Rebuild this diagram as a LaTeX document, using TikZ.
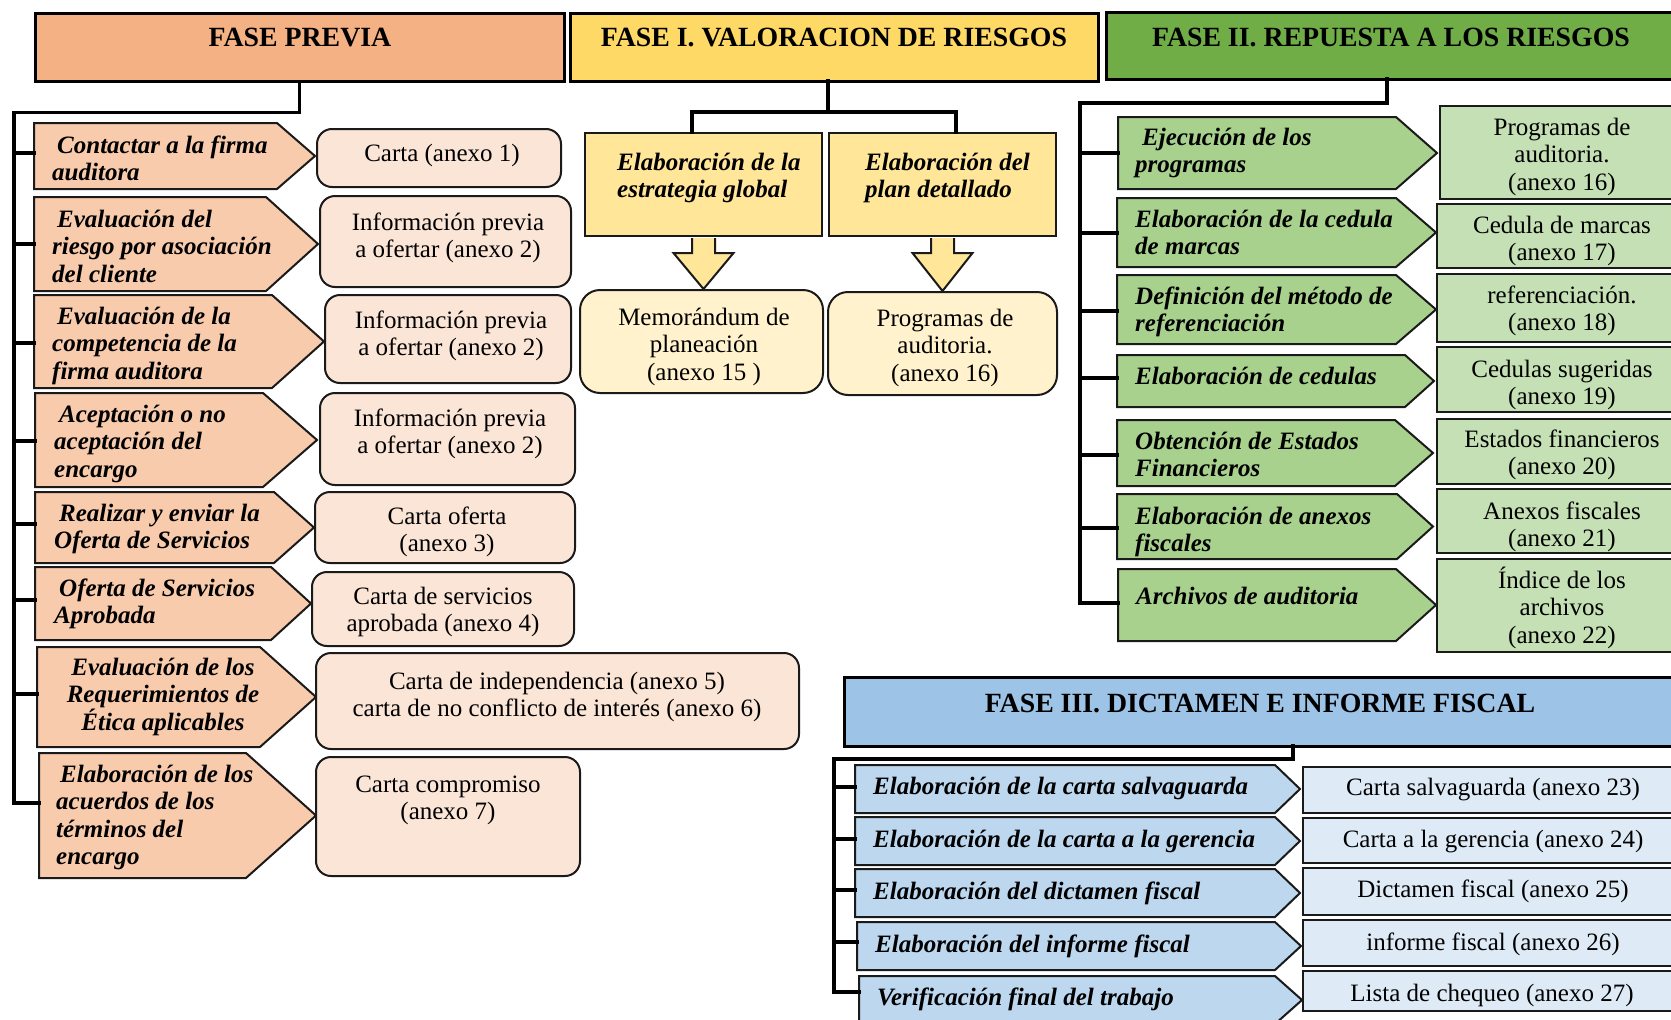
\documentclass[tikz,border=0pt]{standalone}
\usepackage{fontspec}
\setmainfont{Liberation Serif}
\usetikzlibrary{fit,calc}

% Phase palettes: header / step arrow / document box
\definecolor{prevHead}{HTML}{F4B183}
\definecolor{prevStep}{HTML}{F8CBAD}
\definecolor{prevDoc}{HTML}{FBE5D6}
\definecolor{riskHead}{HTML}{FFD966}
\definecolor{riskStep}{HTML}{FFE699}
\definecolor{riskDoc}{HTML}{FFF2CC}
\definecolor{respHead}{HTML}{70AD47}
\definecolor{respStep}{HTML}{A9D18E}
\definecolor{respDoc}{HTML}{C5E0B4}
\definecolor{dictHead}{HTML}{9DC3E6}
\definecolor{dictStep}{HTML}{BDD7EE}
\definecolor{dictDoc}{HTML}{DEEBF7}
\definecolor{edge}{HTML}{1A1A1A}

% fixed height for the first line of every text block
\newcommand\fl{\rule{0pt}{23pt}}

\tikzset{
  conn/.style={draw=black, line width=3.5pt, line join=miter, line cap=rect},
  phasebox/.style={draw=black, line width=3pt, inner sep=0pt},
  phasetext/.style={font=\bfseries\fontsize{27.8}{30}\selectfont, inner sep=0pt},
  stepshape/.style={draw=edge, line width=2pt, line join=miter},
  stepframe/.style={draw=edge, line width=2pt, inner sep=0pt},
  steptext/.style={font=\bfseries\itshape\fontsize{25}{27.5}\selectfont, align=left,
    inner sep=0pt, anchor=north west},
  steptextc/.style={font=\bfseries\itshape\fontsize{25}{27.5}\selectfont, align=center,
    inner sep=0pt, anchor=north},
  doctext/.style={font=\fontsize{25}{27.5}\selectfont, align=center,
    inner sep=0pt, anchor=north},
  docround/.style={draw=edge, line width=2pt, rounded corners=15pt, inner sep=0pt},
  docrect/.style={draw=edge, line width=2.5pt, inner sep=0pt},
}

% pentagon step arrow: name, fill, left x, top y, shoulder x, tip x, bottom y, joint y
\newcommand\stepbox[8]{%
  \draw[stepshape, fill=#2] (#3,#4) -- (#5,#4) -- (#6,{(#4+#7)/2}) -- (#5,#7) -- (#3,#7) -- cycle;
  \coordinate (#1) at (#3,#8);}

% block arrow from the bottom of one box down to the top of another
\newcommand\blockdown[2]{%
  \draw[stepshape, fill=riskStep] ($(#1.south)+(-11.5,1)$) -- ++(0,15) -- ++(-18.5,0)
    -- (#1.south |- #2.north) -- ($(#1.south)+(30,16)$) -- ++(-18.5,0)
    -- ($(#1.south)+(11.5,1)$);}

\begin{document}
\begin{tikzpicture}[x=1pt,y=-1pt]
\useasboundingbox (0,0) rectangle (1671,1020);

% ===================== FASE PREVIA =====================
\node[phasebox, fill=prevHead, fit={(35,13) (564,81)}] (hPrev) {};
\node[phasetext] (tPrev) at (300,38) {FASE PREVIA};

\stepbox{p1}{prevStep}{34}{123}{277}{315}{189}{153}
\stepbox{p2}{prevStep}{34}{197}{266}{318}{291}{244}
\stepbox{p3}{prevStep}{34}{295}{272}{324}{388}{343}
\stepbox{p4}{prevStep}{35}{393}{263}{317}{487}{441}
\stepbox{p5}{prevStep}{35}{492}{274}{314}{563}{524}
\stepbox{p6}{prevStep}{35}{567}{271}{311}{640}{600}
\stepbox{p7}{prevStep}{37}{647}{260}{316}{747}{694}
\stepbox{p8}{prevStep}{39}{753}{246}{316}{878}{803}

\node[steptext] (p1t) at (52,130) {\fl\hspace*{5pt}Contactar a la firma\\auditora};
\node[steptext] (p2t) at (52,204) {\fl\hspace*{5pt}Evaluación del\\riesgo por asociación\\del cliente};
\node[steptext] (p3t) at (52,301) {\fl\hspace*{5pt}Evaluación de la\\competencia de la\\firma auditora};
\node[steptext] (p4t) at (54,399) {\fl\hspace*{5pt}Aceptación o no\\aceptación del\\encargo};
\node[steptext] (p5t) at (54,498) {\fl\hspace*{5pt}Realizar y enviar la\\Oferta de Servicios};
\node[steptext] (p6t) at (54,573) {\fl\hspace*{5pt}Oferta de Servicios\\Aprobada};
\node[steptextc] (p7t) at (163,652) {\fl Evaluación de los\\Requerimientos de\\Ética aplicables};
\node[steptext] (p8t) at (56,759) {\fl\hspace*{4pt}Elaboración de los\\acuerdos de los\\términos del\\encargo};

\node[docround, fill=prevDoc, fit={(317,129) (561,187)}] (q1) {};
\node[docround, fill=prevDoc, fit={(320,196) (571,287)}] (q2) {};
\node[docround, fill=prevDoc, fit={(325,295) (571,383)}] (q3) {};
\node[docround, fill=prevDoc, fit={(320,393) (575,485)}] (q4) {};
\node[docround, fill=prevDoc, fit={(315,492) (575,563)}] (q5) {};
\node[docround, fill=prevDoc, fit={(312,572) (574,646)}] (q6) {};
\node[docround, fill=prevDoc, fit={(316,653) (799,749)}] (q7) {};
\node[docround, fill=prevDoc, fit={(316,757) (580,876)}] (q8) {};

\node[doctext] (q1t) at (442,138) {\fl Carta (anexo 1)};
\node[doctext] (q2t) at (448,207) {\fl Información previa\\a ofertar (anexo 2)};
\node[doctext] (q3t) at (451,305) {\fl Información previa\\a ofertar (anexo 2)};
\node[doctext] (q4t) at (450,403) {\fl Información previa\\a ofertar (anexo 2)};
\node[doctext] (q5t) at (447,501) {\fl Carta oferta\\(anexo 3)};
\node[doctext] (q6t) at (443,581) {\fl Carta de servicios\\aprobada (anexo 4)};
\node[doctext] (q7t) at (557,666) {\fl Carta de independencia (anexo 5)\\carta de no conflicto de interés (anexo 6)};
\node[doctext] (q8t) at (448,769) {\fl Carta compromiso\\(anexo 7)};

% tree of the preliminary phase
\coordinate (pvBot) at (14,803);
\draw[conn] (hPrev.south) -- ++(0,30) -| (pvBot);
\foreach \s in {p1,p2,p3,p4,p5,p6,p7,p8}
  \draw[conn] (pvBot |- \s) -- (\s);

% ===================== FASE I =====================
\node[phasebox, fill=riskHead, fit={(570,13) (1098,81)}] (hRisk) {};
\node[phasetext] (tRisk) at (834,38) {FASE I. VALORACION DE RIESGOS};

\node[stepframe, fill=riskStep, fit={(585,133) (822,236)}] (s1) {};
\node[stepframe, fill=riskStep, fit={(829,133) (1056,236)}] (s2) {};
\node[steptext] (s1t) at (617,147) {\fl Elaboración de la\\estrategia global};
\node[steptext] (s2t) at (865,147) {\fl Elaboración del\\plan detallado};

\node[docround, rounded corners=20pt, fill=riskDoc, fit={(580,290) (823,393)}] (r1) {};
\node[docround, rounded corners=20pt, fill=riskDoc, fit={(828,292) (1057,395)}] (r2) {};
\node[doctext] (r1t) at (704,302) {\fl Memorándum de\\planeación\\(anexo 15 )};
\node[doctext] (r2t) at (945,303) {\fl Programas de\\auditoria.\\(anexo 16)};

\blockdown{s1}{r1}
\blockdown{s2}{r2}

\coordinate (rOut) at (828,81);
\coordinate (rBar) at (828,112);
\draw[conn] (rOut) -- (rBar);
\draw[conn] ($(s1.north)+(-11.5,0)$) |- (rBar) -| ($(s2.north)+(13.5,0)$);

% ===================== FASE II =====================
\node[phasebox, fill=respHead, fit={(1106,12) (1700,79)}] (hResp) {};
\node[phasetext] (tResp) at (1391,37) {FASE II. REPUESTA A LOS RIESGOS};

\stepbox{a1}{respStep}{1118}{117}{1396}{1437}{189}{153}
\stepbox{a2}{respStep}{1117}{198}{1396}{1436}{267}{233}
\stepbox{a3}{respStep}{1117}{275}{1396}{1436}{344}{311}
\stepbox{a4}{respStep}{1117}{355}{1405}{1434}{407}{378}
\stepbox{a5}{respStep}{1117}{420}{1395}{1433}{486}{455}
\stepbox{a6}{respStep}{1117}{494}{1397}{1433}{559}{528}
\stepbox{a7}{respStep}{1118}{569}{1396}{1436}{641}{603}

\node[steptext] (a1t) at (1135,122) {\fl\hspace*{7pt}Ejecución de los\\programas};
\node[steptext] (a2t) at (1135,204) {\fl Elaboración de la cedula\\de marcas};
\node[steptext] (a3t) at (1135,281) {\fl Definición del método de\\referenciación};
\node[steptext] (a4t) at (1135,361) {\fl Elaboración de cedulas};
\node[steptext] (a5t) at (1135,426) {\fl Obtención de Estados\\Financieros};
\node[steptext] (a6t) at (1135,501) {\fl Elaboración de anexos\\fiscales};
\node[steptext] (a7t) at (1136,581) {\fl Archivos de auditoria};

\node[docrect, fill=respDoc, fit={(1440,106) (1700,199)}] (g1) {};
\node[docrect, fill=respDoc, fit={(1437,204) (1700,268)}] (g2) {};
\node[docrect, fill=respDoc, fit={(1437,274) (1700,342)}] (g3) {};
\node[docrect, fill=respDoc, fit={(1437,347) (1700,412)}] (g4) {};
\node[docrect, fill=respDoc, fit={(1437,419) (1700,484)}] (g5) {};
\node[docrect, fill=respDoc, fit={(1437,489) (1700,553)}] (g6) {};
\node[docrect, fill=respDoc, fit={(1437,559) (1700,652)}] (g7) {};

\node[doctext] (g1t) at (1562,112) {\fl Programas de\\auditoria.\\(anexo 16)};
\node[doctext] (g2t) at (1562,210) {\fl Cedula de marcas\\(anexo 17)};
\node[doctext] (g3t) at (1562,280) {\fl referenciación.\\(anexo 18)};
\node[doctext] (g4t) at (1562,354) {\fl Cedulas sugeridas\\(anexo 19)};
\node[doctext] (g5t) at (1562,424) {\fl Estados financieros\\(anexo 20)};
\node[doctext] (g6t) at (1562,496) {\fl Anexos fiscales\\(anexo 21)};
\node[doctext] (g7t) at (1562,565) {\fl Índice de los\\archivos\\(anexo 22)};

\coordinate (gOut) at (1387,79);
\coordinate (gBot) at (1080,603);
\draw[conn] (gOut) -- ++(0,24) -| (gBot);
\foreach \s in {a1,a2,a3,a4,a5,a6,a7}
  \draw[conn] (gBot |- \s) -- (\s);

% ===================== FASE III =====================
\node[phasebox, fill=dictHead, fit={(844,677) (1700,746)}] (hDict) {};
\node[phasetext] (tDict) at (1260,703) {FASE III. DICTAMEN E INFORME FISCAL};

\stepbox{c1}{dictStep}{855}{765}{1275}{1300}{813}{787}
\stepbox{c2}{dictStep}{855}{817}{1275}{1300}{865}{839}
\stepbox{c3}{dictStep}{855}{869}{1275}{1300}{917}{890}
\stepbox{c4}{dictStep}{857}{922}{1275}{1301}{970}{942}
\stepbox{c5}{dictStep}{859}{976}{1275}{1302}{1024}{992}

\node[steptext] (c1t) at (873,771) {\fl Elaboración de la carta salvaguarda};
\node[steptext] (c2t) at (873,824) {\fl Elaboración de la carta a la gerencia};
\node[steptext] (c3t) at (873,876) {\fl Elaboración del dictamen fiscal};
\node[steptext] (c4t) at (875,929) {\fl Elaboración del informe fiscal};
\node[steptext] (c5t) at (877,982) {\fl Verificación final del trabajo};

\node[docrect, fill=dictDoc, fit={(1303,767) (1700,813)}] (e1) {};
\node[docrect, fill=dictDoc, fit={(1303,818) (1700,863)}] (e2) {};
\node[docrect, fill=dictDoc, fit={(1303,868) (1700,915)}] (e3) {};
\node[docrect, fill=dictDoc, fit={(1303,920) (1700,966)}] (e4) {};
\node[docrect, fill=dictDoc, fit={(1303,971) (1700,1011)}] (e5) {};

\node[doctext] (e1t) at (1493,772) {\fl Carta salvaguarda (anexo 23)};
\node[doctext] (e2t) at (1493,824) {\fl Carta a la gerencia (anexo 24)};
\node[doctext] (e3t) at (1493,874) {\fl Dictamen fiscal (anexo 25)};
\node[doctext] (e4t) at (1493,927) {\fl informe fiscal (anexo 26)};
\node[doctext] (e5t) at (1492,978) {\fl Lista de chequeo (anexo 27)};

\coordinate (dOut) at (1293,746);
\coordinate (dBot) at (834,992);
\draw[conn] (dOut) -- ++(0,13) -| (dBot);
\foreach \s in {c1,c2,c3,c4,c5}
  \draw[conn] (dBot |- \s) -- (\s);

\end{tikzpicture}
\end{document}
